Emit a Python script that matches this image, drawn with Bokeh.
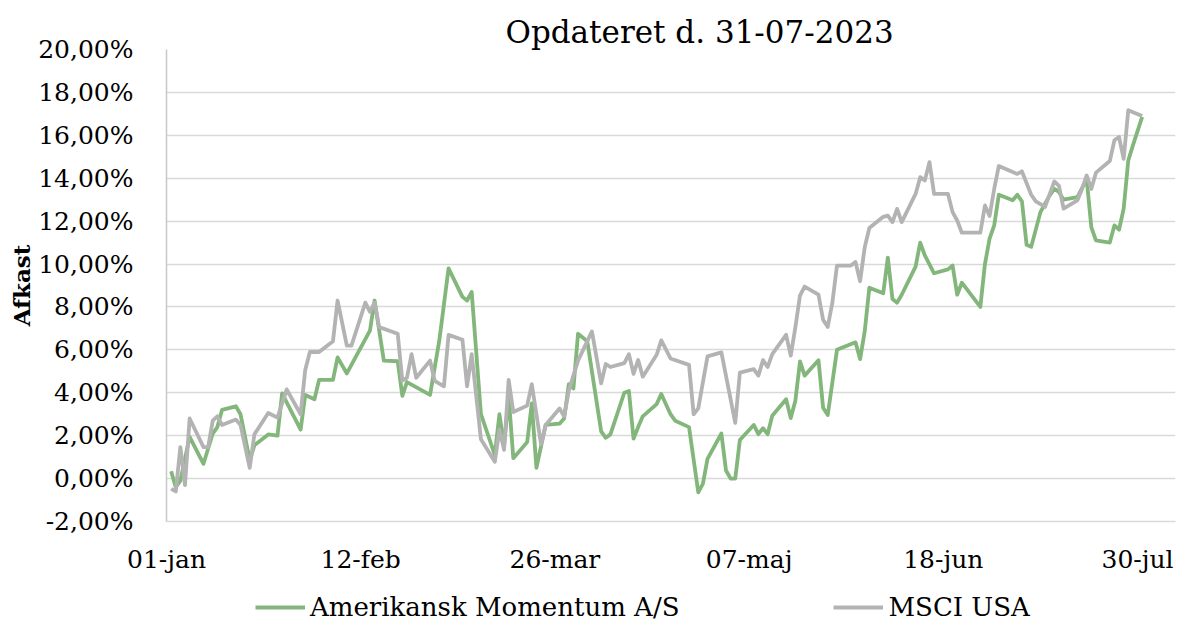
from bokeh.plotting import figure
from bokeh.layouts import column
from bokeh.models import Range1d, FixedTicker, Legend, LegendItem
from bokeh.embed import file_html
from bokeh.resources import INLINE

# ---- data (days since 1 Jan 2023, return in %) ----
am_days = [1, 2, 3, 5, 8, 10, 11, 12, 15, 16, 18, 19, 22, 24, 25, 29, 30, 32, 33, 36, 37, 39,
           44, 45, 47, 50, 51, 52, 57, 59, 61, 64, 65, 66, 68, 71, 72, 73, 74, 75, 78, 79, 80, 82,
           85, 86, 87, 88, 89, 91, 94, 95, 96, 99, 100, 101, 102, 103, 106, 107, 109, 110, 113,
           115, 116, 117, 120, 121, 122, 123, 124, 127, 128, 129, 130, 131, 134, 135, 136, 137,
           138, 141, 142, 143, 145, 149, 150, 151, 152, 155, 156, 157, 158, 159, 162, 163, 164,
           166, 169, 170, 171, 172, 176, 177, 178, 179, 180, 183, 184, 185, 186, 187, 189, 191,
           192, 193, 194, 197, 198, 199, 200, 201, 204, 205, 206, 207, 208, 209, 211]
am_vals = [0.34, -0.40, -0.10, 1.94, 0.69, 2.10, 2.40, 3.20, 3.37, 3.00, 0.85, 1.55, 2.06, 2.00,
           3.97, 2.28, 3.90, 3.70, 4.60, 4.60, 5.65, 4.90,
           6.90, 8.30, 5.50, 5.47, 3.86, 4.50, 3.90, 6.44, 9.80, 8.47, 8.30, 8.70, 3.00, 1.10,
           3.00, 1.50, 3.84, 0.95, 1.70, 3.50, 0.50, 2.50,
           2.56, 2.80, 4.40, 4.20, 6.75, 6.40, 2.20, 1.90, 2.06, 4.00, 4.08, 1.86, 2.40, 2.90,
           3.47, 3.94, 3.00, 2.70, 2.40,
           -0.64, -0.25, 0.92, 2.10, 0.38, 0.00, 0.00, 1.80, 2.50, 2.07, 2.35, 2.07, 2.93, 3.70,
           2.82, 3.63, 5.46,
           4.80, 5.52, 3.30, 2.96, 6.00, 6.35, 5.57, 6.86, 8.90, 8.64, 10.30, 8.37, 8.20, 8.57,
           9.88, 11.00, 10.40,
           9.57, 9.75, 9.93, 8.57, 9.13, 8.00, 10.00, 11.18, 11.80, 13.23, 12.97, 13.23, 12.92,
           10.90, 10.80, 12.42, 13.20,
           13.50, 13.36, 13.00, 13.12, 13.54, 13.97, 11.72, 11.10, 11.00, 11.80, 11.60, 12.58,
           14.83, 15.53, 16.86]

msci_days = [1, 2, 3, 4, 5, 8, 9, 10, 11, 12, 15, 16, 18, 19, 22, 24, 26, 29, 30, 31, 33, 36,
             37, 39, 40, 43, 44, 45, 46, 50, 51, 52, 53, 54, 57, 58, 60, 61, 64, 65, 66, 68, 71,
             72, 73, 74, 75, 78, 79, 81, 82, 85, 86, 87, 89, 92, 94, 95, 96, 99, 100, 101, 102,
             103, 106, 107, 109, 113, 114, 115, 117, 120, 123, 124, 127, 128, 129, 130, 131,
             134, 135, 136, 137, 138, 141, 142, 143, 144, 145, 148, 149, 150, 151, 152, 155,
             156, 157, 158, 159, 162, 163, 164, 165, 166, 169, 170, 171, 172, 176, 177, 178,
             179, 180, 183, 184, 185, 187, 188, 190, 192, 193, 194, 197, 198, 199, 200, 201,
             204, 205, 206, 207, 208, 211]
msci_vals = [-0.48, -0.60, 1.47, -0.30, 2.80, 1.47, 1.47, 2.70, 2.90, 2.50, 2.75, 2.50, 0.50,
             2.06, 3.06, 2.84, 4.16, 3.00, 5.06, 5.90, 5.90, 6.40,
             8.30, 6.20, 6.20, 8.20, 7.77, 8.20, 7.06, 6.75, 4.56, 4.70, 5.80, 4.70, 5.50, 4.56,
             4.30, 6.70, 6.47, 4.30, 5.80, 1.83, 0.78,
             2.28, 1.34, 4.60, 3.10, 3.40, 4.40, 1.60, 2.50, 3.27, 2.90, 4.10, 5.50, 6.86, 4.44,
             5.34, 5.20, 5.38, 5.80, 4.88, 5.53,
             4.75, 5.77, 6.44, 5.60, 5.30, 3.00, 3.27, 5.70, 5.88, 2.60, 4.94, 5.10, 4.80, 5.52,
             5.20, 5.80,
             6.70, 5.73, 7.05, 8.53, 8.95, 8.57, 7.40, 7.07, 8.20, 9.93, 9.93, 10.10, 9.20,
             10.78, 11.68, 12.20,
             12.26, 11.95, 12.57, 11.95, 13.27, 14.05, 13.90, 14.75, 13.27, 13.27, 12.42, 12.03,
             11.46, 11.46, 12.73, 12.24,
             13.50, 14.57, 14.29, 14.20, 14.32, 13.23, 12.92, 12.66, 13.85, 13.64, 12.58, 12.97,
             13.50, 14.13, 13.50, 14.26,
             14.80, 15.77, 15.92, 14.90, 17.17, 16.90]

x_tick_days = [0, 42, 84, 126, 168, 210]
x_tick_labels = ["01-jan", "12-feb", "26-mar", "07-maj", "18-jun", "30-jul"]
y_ticks = list(range(-2, 21, 2))
y_tick_labels = [f"{v:.2f}".replace(".", ",") + "%" for v in y_ticks]

series_names = ["Amerikansk Momentum A/S", "MSCI USA"]
title_text = "Opdateret d. 31-07-2023"
y_label = "Afkast"

GREEN = "#82b67a"
GREY = "#b3b3b3"
FONT = "DejaVu Serif"

W = 1180
H1, H2 = 585, 37
left, right, top = 166, 5, 49
frame_bottom = 521
px_per_day = 4.624
x_end = (W - left - right) / px_per_day

p = figure(width=W, height=H1, output_backend="svg", toolbar_location=None,
           x_range=Range1d(0, x_end), y_range=Range1d(-2, 20),
           min_border_left=left, min_border_right=right, min_border_top=top,
           min_border_bottom=H1 - frame_bottom)
p.outline_line_color = None
p.background_fill_color = "white"
p.border_fill_color = "white"

# title
p.title.text = title_text
p.title.text_font = FONT
p.title.text_font_size = "31px"
p.title.text_font_style = "normal"
p.title.text_color = "#000000"
p.title.align = "left"
p.title.offset = 339
p.title.standoff = 0

# axes
p.yaxis.ticker = FixedTicker(ticks=y_ticks)
p.yaxis.major_label_overrides = {t: l for t, l in zip(y_ticks, y_tick_labels)}
p.xaxis.ticker = FixedTicker(ticks=x_tick_days)
p.xaxis.major_label_overrides = {t: l for t, l in zip(x_tick_days, x_tick_labels)}
for ax in (p.xaxis, p.yaxis):
    ax.major_tick_line_color = None
    ax.minor_tick_line_color = None
    ax.major_label_text_font = FONT
    ax.major_label_text_font_size = "25px"
    ax.major_label_text_color = "#000000"
p.yaxis.axis_line_color = "#c8c8c8"
p.yaxis.axis_line_width = 1.5
p.xaxis.axis_line_color = "#d9d9d9"
p.xaxis.axis_line_width = 1.5
p.yaxis.major_label_standoff = 27
p.xaxis.major_label_standoff = 17
p.yaxis.axis_label = y_label
p.yaxis.axis_label_text_font = FONT
p.yaxis.axis_label_text_font_style = "bold"
p.yaxis.axis_label_text_font_size = "23px"
p.yaxis.axis_label_text_color = "#000000"
p.yaxis.axis_label_standoff = 0

p.xgrid.grid_line_color = None
p.ygrid.ticker = FixedTicker(ticks=y_ticks)
p.ygrid.grid_line_color = "#d9d9d9"
p.ygrid.grid_line_width = 1.5

p.line(am_days, am_vals, line_color=GREEN, line_width=3.8, line_join="round")
p.line(msci_days, msci_vals, line_color=GREY, line_width=3.8, line_join="round")

# legend strip underneath (same series, drawn outside this strip's visible range)
lg = figure(width=W, height=H2, output_backend="svg", toolbar_location=None,
            x_range=Range1d(0, x_end), y_range=Range1d(100, 101),
            min_border_left=0, min_border_right=0, min_border_top=0, min_border_bottom=0)
lg.outline_line_color = None
lg.axis.visible = False
lg.grid.visible = False
k1 = lg.line(am_days, am_vals, line_color=GREEN, line_width=3.8)
k2 = lg.line(msci_days, msci_vals, line_color=GREY, line_width=3.8)
legend = Legend(items=[LegendItem(label=series_names[0], renderers=[k1]),
                       LegendItem(label=series_names[1], renderers=[k2])],
                location=(255 - left, 0), orientation="horizontal", glyph_width=50,
                label_standoff=5, spacing=154,
                label_text_font=FONT, label_text_font_size="26px",
                label_text_color="#000000", padding=0, margin=0,
                border_line_color=None, background_fill_alpha=0)
lg.add_layout(legend, "center")

open("out.html", "w").write(file_html(column(p, lg, spacing=0), INLINE))
